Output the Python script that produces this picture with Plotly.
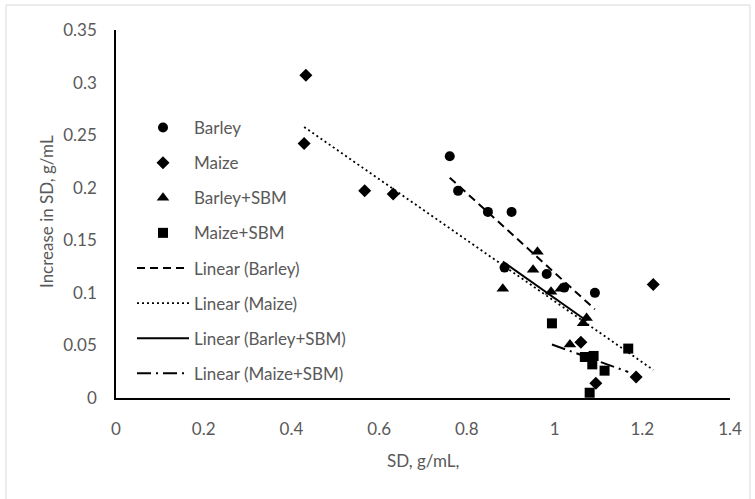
import numpy as np
import plotly.graph_objects as go

# ---- data ----
barley_x = [0.761, 0.780, 0.848, 0.902, 0.886, 0.982, 1.022, 1.092]
barley_y = [0.230, 0.197, 0.177, 0.177, 0.124, 0.118, 0.105, 0.100]

maize_x = [0.433, 0.429, 0.567, 0.632, 1.225, 1.060, 1.186, 1.094]
maize_y = [0.307, 0.242, 0.197, 0.194, 0.108, 0.053, 0.020, 0.014]

barley_sbm_x = [0.961, 0.951, 0.882, 0.992, 1.014, 1.073, 1.065, 1.035]
barley_sbm_y = [0.139, 0.122, 0.104, 0.101, 0.104, 0.076, 0.071, 0.051]

maize_sbm_x = [0.994, 1.168, 1.069, 1.089, 1.086, 1.114, 1.080]
maize_sbm_y = [0.071, 0.047, 0.039, 0.040, 0.032, 0.026, 0.005]

x_ticks = [0, 0.2, 0.4, 0.6, 0.8, 1.0, 1.2, 1.4]
x_tick_labels = ["0", "0.2", "0.4", "0.6", "0.8", "1", "1.2", "1.4"]
y_ticks = [0, 0.05, 0.1, 0.15, 0.2, 0.25, 0.3, 0.35]
y_tick_labels = ["0", "0.05", "0.1", "0.15", "0.2", "0.25", "0.3", "0.35"]

series_names = ["Barley", "Maize", "Barley+SBM", "Maize+SBM"]
x_title = "SD, g/mL,"
y_title = "Increase in SD, g/mL"

# ---- figure ----
FONT = "Lato"
FS = 17
GREY = "#595959"
INK = "#000000"

series = [
    (series_names[0], barley_x, barley_y, "circle", 10, "8px,5px"),
    (series_names[1], maize_x, maize_y, "diamond", 10, "2px,3px"),
    (series_names[2], barley_sbm_x, barley_sbm_y, "triangle-up", 11, "solid"),
    (series_names[3], maize_sbm_x, maize_sbm_y, "square", 10, "14px,5px,2px,5px"),
]

fig = go.Figure()
for i, (name, xs, ys, sym, size, _) in enumerate(series):
    fig.add_trace(go.Scatter(
        x=xs, y=ys, mode="markers", name=name, legendgroup=f"m{i}",
        marker=dict(symbol=sym, size=size, color=INK, line=dict(width=0)),
    ))

for i, (name, xs, ys, sym, size, dash) in enumerate(series):
    xs_a = np.array(xs)
    ys_a = np.array(ys)
    slope, intercept = np.polyfit(xs_a, ys_a, 1)
    lx = np.array([xs_a.min(), xs_a.max()])
    ly = slope * lx + intercept
    fig.add_trace(go.Scatter(
        x=lx, y=ly, mode="lines", name=f"Linear ({name})", legendgroup=f"l{i}",
        line=dict(color=INK, width=2 if dash != "2px,3px" else 1.8, dash=dash),
    ))

W, H = 755, 499
ml, mr, mt, mb = 116, 25, 30, 101
pw, ph = W - ml - mr, H - mt - mb

def px_x(p):
    return (p - ml) / pw

def px_y(p):
    return (H - mb - p) / ph

fig.update_layout(
    width=W, height=H,
    margin=dict(l=ml, r=mr, t=mt, b=mb, pad=0),
    paper_bgcolor="white", plot_bgcolor="white",
    font=dict(family=FONT, size=FS, color=GREY),
    showlegend=True,
    legend=dict(
        x=px_x(132), y=px_y(110), xanchor="left", yanchor="top",
        bgcolor="rgba(0,0,0,0)", borderwidth=0,
        traceorder="grouped", tracegroupgap=10, itemwidth=52,
        font=dict(family=FONT, size=FS, color=GREY),
    ),
    xaxis=dict(
        range=[0, 1.4], tickvals=x_ticks, ticktext=x_tick_labels,
        showgrid=False, zeroline=False, showline=True, linecolor="#000000", linewidth=1.5,
        ticks="", ticklabelstandoff=15, tickfont=dict(family=FONT, size=FS, color=GREY),
        fixedrange=True,
    ),
    yaxis=dict(
        range=[0, 0.35], tickvals=y_ticks, ticktext=y_tick_labels,
        showgrid=False, zeroline=False, showline=True, linecolor="#000000", linewidth=1.5,
        ticks="", ticklabelstandoff=14, tickfont=dict(family=FONT, size=FS, color=GREY),
        fixedrange=True,
    ),
    annotations=[
        dict(text=x_title, xref="paper", yref="paper", x=px_x(423), y=px_y(460),
             xanchor="center", yanchor="middle", showarrow=False,
             font=dict(family=FONT, size=FS, color=GREY)),
        dict(text=y_title, xref="paper", yref="paper", x=px_x(46), y=px_y(212),
             xanchor="center", yanchor="middle", showarrow=False, textangle=-90,
             font=dict(family=FONT, size=FS, color=GREY)),
    ],
    shapes=[
        dict(type="rect", xref="paper", yref="paper", layer="below",
             x0=px_x(6), x1=px_x(750), y0=px_y(520), y1=px_y(5),
             line=dict(color="#d9d9d9", width=1), fillcolor="rgba(0,0,0,0)"),
    ],
)

fig.write_html("out.html")
